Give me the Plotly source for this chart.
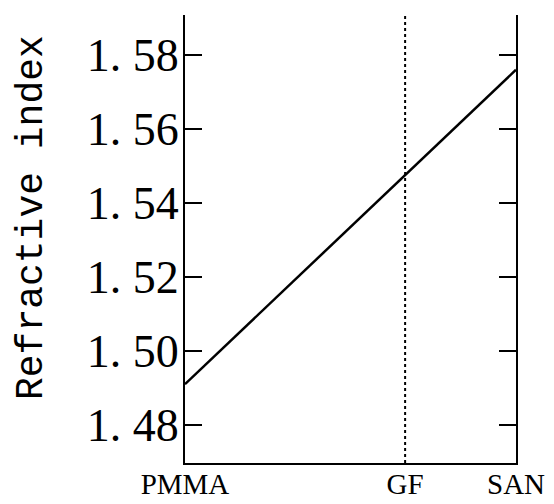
import plotly.graph_objects as go

# Data
materials = ["PMMA", "GF", "SAN"]
material_x = [0.0, 0.665, 1.0]          # relative position along composition axis
line_x = [0.0, 1.0]
refractive_index = [1.491, 1.576]
y_ticks = [1.48, 1.50, 1.52, 1.54, 1.56, 1.58]
y_tick_text = ["1. 48", "1. 50", "1. 52", "1. 54", "1. 56", "1. 58"]
y_range = [1.4697, 1.5908]
gf_x = material_x[1]

fig = go.Figure()
fig.add_trace(go.Scatter(x=line_x, y=refractive_index, mode="lines",
                         line=dict(color="black", width=2.5), showlegend=False))

fig.add_shape(type="line", xref="x", yref="paper", x0=gf_x, x1=gf_x, y0=0, y1=1,
              line=dict(color="black", width=2, dash="dot"))

fig.update_layout(
    width=554, height=504,
    margin=dict(l=177, r=46, t=7, b=49),
    plot_bgcolor="white", paper_bgcolor="white",
    xaxis=dict(range=[0, 1], showgrid=False, zeroline=False, showline=True,
               linecolor="black", linewidth=2, mirror=False, automargin=False,
               tickvals=material_x, ticktext=materials, ticks="",
               ticklabelstandoff=-6,
               tickfont=dict(family="Liberation Serif", size=29, color="black")),
    yaxis=dict(range=y_range, showgrid=False, zeroline=False, showline=True,
               linecolor="black", linewidth=2, mirror="ticks", automargin=False,
               tickvals=y_ticks, ticktext=y_tick_text, ticks="inside",
               ticklen=17, tickwidth=2, tickcolor="black",
               ticklabelstandoff=-5,
               tickfont=dict(family="Liberation Serif", size=46, color="black")),
    annotations=[dict(text="Refractive index", xref="paper", yref="paper",
                      x=-0.462, y=0.547, xanchor="center", yanchor="middle",
                      textangle=-90, showarrow=False,
                      font=dict(family="Liberation Mono", size=38, color="black"))],
)

fig.write_html("out.html")
